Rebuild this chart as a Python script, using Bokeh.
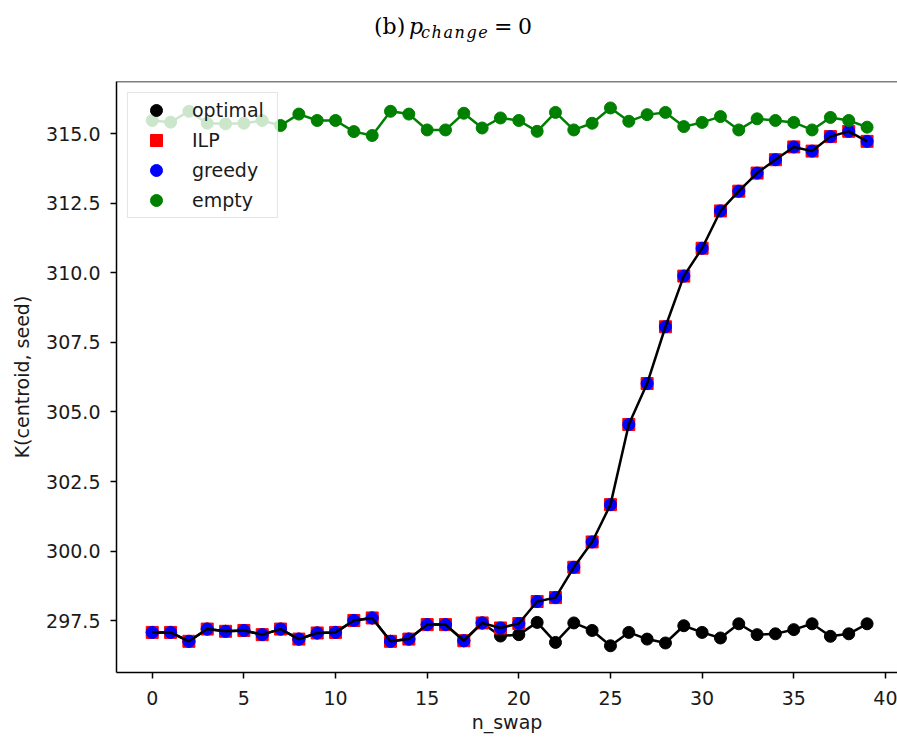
from bokeh.plotting import figure
from bokeh.models import Range1d, FixedTicker, Span, Legend, LegendItem, Div
from bokeh.layouts import column
from bokeh.embed import file_html
from bokeh.resources import INLINE

# ---------------- data ----------------
n_swap = list(range(40))

optimal = [297.08, 297.08, 296.76, 297.20, 297.12, 297.15, 297.00, 297.20, 296.84, 297.06,
           297.08, 297.51, 297.60, 296.76, 296.84, 297.36, 297.36, 296.78, 297.42, 296.95,
           297.00, 297.44, 296.72, 297.42, 297.15, 296.60, 297.08, 296.84, 296.70, 297.32,
           297.08, 296.88, 297.39, 297.00, 297.03, 297.18, 297.39, 296.94, 297.03, 297.39]

ilp = [297.08, 297.08, 296.76, 297.20, 297.12, 297.15, 297.00, 297.20, 296.84, 297.06,
       297.08, 297.51, 297.60, 296.76, 296.84, 297.36, 297.36, 296.78, 297.42, 297.24,
       297.40, 298.19, 298.33, 299.42, 300.33, 301.67, 304.55, 306.02, 308.06, 309.88,
       310.88, 312.22, 312.93, 313.58, 314.06, 314.52, 314.37, 314.89, 315.08, 314.72]

greedy = [297.08, 297.08, 296.76, 297.20, 297.12, 297.15, 297.00, 297.20, 296.84, 297.06,
          297.08, 297.51, 297.60, 296.76, 296.84, 297.36, 297.36, 296.78, 297.42, 297.24,
          297.40, 298.19, 298.33, 299.42, 300.33, 301.67, 304.55, 306.02, 308.06, 309.88,
          310.88, 312.22, 312.93, 313.58, 314.06, 314.52, 314.37, 314.89, 315.08, 314.72]

empty = [315.47, 315.41, 315.80, 315.37, 315.35, 315.37, 315.47, 315.29, 315.70, 315.47,
         315.47, 315.07, 314.93, 315.80, 315.70, 315.13, 315.13, 315.73, 315.20, 315.56,
         315.47, 315.08, 315.76, 315.13, 315.37, 315.92, 315.44, 315.68, 315.76, 315.25,
         315.40, 315.61, 315.13, 315.53, 315.47, 315.40, 315.13, 315.58, 315.47, 315.23]

series_labels = ["optimal", "ILP", "greedy", "empty"]

x_ticks = [0, 5, 10, 15, 20, 25, 30, 35, 40]
x_tick_labels = ["0", "5", "10", "15", "20", "25", "30", "35", "40"]
y_ticks = [297.5, 300.0, 302.5, 305.0, 307.5, 310.0, 312.5, 315.0]
y_tick_labels = ["297.5", "300.0", "302.5", "305.0", "307.5", "310.0", "312.5", "315.0"]

x_label = "n_swap"
y_label = "K(centroid, seed)"
title_prefix = "(b)"
title_var = "p"
title_sub = "change"
title_eq = "="
title_rhs = "0"

# ---------------- title (HTML so the subscript stays real text) ----------------
def span(text, left, top, size, italic=False, extra=""):
    style = (f"position:absolute;left:{left}px;top:{top}px;font-size:{size}px;"
             f"line-height:normal;white-space:nowrap;"
             f"font-style:{'italic' if italic else 'normal'};{extra}")
    return f'<span style="{style}">{text}</span>'

title_html = (
    '<div style="position:relative;width:897px;height:60px;margin:0;padding:0;'
    'font-family:\'DejaVu Serif\';color:#000">'
    + span(title_prefix, 374, 13.5, 22)
    + span(title_var, 409, 13.5, 22, italic=True)
    + span(title_sub, 421, 23, 16, italic=True, extra="letter-spacing:1.6px;")
    + span(title_eq, 494, 13.5, 22)
    + span(title_rhs, 518, 13.5, 22)
    + '</div>'
)
title_div = Div(text=title_html, width=897, height=60, margin=0)

# ---------------- figure ----------------
FONT = "DejaVu Sans"
FS = "19px"
TXT = "#1a1a1a"

Y0, Y1 = 295.64, 316.87

p = figure(width=897, height=677, output_backend="svg", toolbar_location=None,
           x_range=Range1d(-1.95, 40.66), y_range=Range1d(Y0, Y1),
           min_border_left=116, min_border_right=0, min_border_top=21, min_border_bottom=65,
           margin=0)
p.outline_line_color = None
p.grid.visible = False
p.background_fill_color = "white"
p.border_fill_color = "white"

p.xaxis.ticker = FixedTicker(ticks=x_ticks)
p.xaxis.major_label_overrides = {t: s for t, s in zip(x_ticks, x_tick_labels)}
p.yaxis.ticker = FixedTicker(ticks=y_ticks)
p.yaxis.major_label_overrides = {t: s for t, s in zip(y_ticks, y_tick_labels)}

for ax in (p.xaxis, p.yaxis):
    ax.axis_line_color = "black"
    ax.axis_line_width = 1.5
    ax.major_tick_line_color = "black"
    ax.major_tick_line_width = 1.5
    ax.major_tick_in = 0
    ax.major_tick_out = 6
    ax.minor_tick_line_color = None
    ax.major_label_text_font = FONT
    ax.major_label_text_font_size = FS
    ax.major_label_text_color = TXT
    ax.axis_label_text_font = FONT
    ax.axis_label_text_font_size = FS
    ax.axis_label_text_font_style = "normal"
    ax.axis_label_text_color = TXT

p.xaxis.major_label_standoff = 12
p.xaxis.axis_label = x_label
p.xaxis.axis_label_standoff = 3
p.yaxis.major_label_standoff = 10
p.yaxis.axis_label = y_label
p.yaxis.axis_label_standoff = 10

# top spine
p.add_layout(Span(location=Y1, dimension="width", line_color="black", line_width=1.5))

# ---------------- glyphs ----------------
MS = 12
p.line(n_swap, optimal, line_color="black", line_width=2.5)
r_opt = p.scatter(n_swap, optimal, marker="circle", size=MS, color="black")
r_ilp = p.scatter(n_swap, ilp, marker="square", size=MS, color="red")
r_gr = p.scatter(n_swap, greedy, marker="circle", size=MS, color="blue")
p.line(n_swap, greedy, line_color="black", line_width=2.5)
p.line(n_swap, empty, line_color="green", line_width=2.5)
r_em = p.scatter(n_swap, empty, marker="circle", size=MS, color="green")

legend = Legend(items=[LegendItem(label=series_labels[0], renderers=[r_opt]),
                       LegendItem(label=series_labels[1], renderers=[r_ilp]),
                       LegendItem(label=series_labels[2], renderers=[r_gr]),
                       LegendItem(label=series_labels[3], renderers=[r_em])],
                location="top_left", margin=11, padding=2, spacing=0,
                glyph_height=30, glyph_width=52, label_height=30, label_width=83,
                label_standoff=10, label_text_font=FONT, label_text_font_size=FS,
                label_text_color=TXT, border_line_color="#cccccc", border_line_width=1,
                background_fill_color="white", background_fill_alpha=0.8)
p.add_layout(legend)

layout = column(title_div, p, spacing=0)
open("out.html", "w").write(file_html(layout, INLINE))
